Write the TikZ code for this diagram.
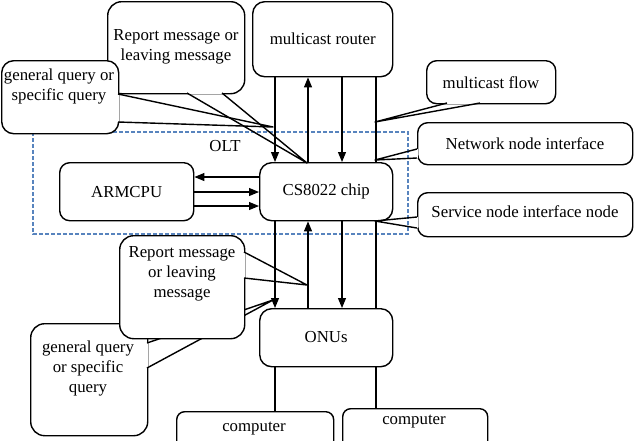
\documentclass[tikz,border=0pt]{standalone}
\usepackage{fontspec}
\setmainfont{Liberation Serif}
\usetikzlibrary{arrows.meta}
\newcommand\myfs{\fontsize{16.8}{20}\selectfont}
\definecolor{oltblue}{RGB}{88,132,190}
\tikzset{
  box/.style={draw, line width=1.4pt, rounded corners=12pt, fill=white, inner sep=0pt, anchor=north west},
  txt/.style={align=center, font=\myfs, inner sep=0pt},
  arr/.style={line width=1.1pt, -{Triangle[length=10pt,width=8pt]}},
  ln/.style={line width=1.1pt},
  ptr/.style={line width=1.4pt, line join=round},
  gap/.style={white, line width=2.6pt}
}
\begin{document}
\begin{tikzpicture}[x=1pt,y=-1pt]
\useasboundingbox (0,0) rectangle (634,440);
% OLT frame
\draw[oltblue, line width=1.1pt, dash pattern=on 4pt off 2pt] (33,132) rectangle (408,234);
\node[txt] (olt) at (225,146) {OLT};
% main boxes
\node[box, minimum width=140pt, minimum height=75pt] (router) at (252,1) {};
\node[txt] (routert) at (router.center) {multicast router};
\node[box, minimum width=134pt, minimum height=58pt, rounded corners=10pt] (arm) at (59,162) {};
\node[txt] (armt) at (arm.center) {ARMCPU};
\node[box, minimum width=133pt, minimum height=58pt] (chip) at (259,162) {};
\node[txt] (chipt) at (chip.center) {CS8022 chip};
\node[box, minimum width=133pt, minimum height=58pt] (onu) at (259,308) {};
\node[txt] (onut) at ([yshift=1pt]onu.center) {ONUs};
\node[box, minimum width=157pt, minimum height=45pt, rounded corners=8pt] (pc1) at (176,411) {};
\node[txt] (pc1t) at (254,429) {computer};
\node[box, minimum width=145pt, minimum height=48pt, rounded corners=8pt] (pc2) at (342,408) {};
\node[txt] (pc2t) at (414,422) {computer};
% x positions of vertical links
\coordinate (xa) at (275,0);
\coordinate (xb) at (308,0);
\coordinate (xc) at (342,0);
\coordinate (xd) at (376,0);
% router <-> chip
\draw[arr] (router.south -| xa) -- (chip.north -| xa);
\draw[arr] (chip.north -| xb) -- (router.south -| xb);
\draw[arr] (router.south -| xc) -- (chip.north -| xc);
\draw[ln] (router.south -| xd) -- (chip.north -| xd);
% chip <-> onu
\draw[arr] (chip.south -| xa) -- (onu.north -| xa);
\draw[arr] (onu.north -| xb) -- (chip.south -| xb);
\draw[arr] (chip.south -| xc) -- (onu.north -| xc);
\draw[ln] (chip.south -| xd) -- (onu.north -| xd);
% onu -> computers
\draw[ln] (onu.south -| xa) -- (pc1.north -| xa);
\draw[ln] (onu.south -| xd) -- (pc2.north -| xd);
% arm <-> chip
\coordinate (ya) at (0,177);
\coordinate (yb) at (0,192);
\coordinate (yc) at (0,206);
\draw[arr] (chip.west |- ya) -- (arm.east |- ya);
\draw[arr] (arm.east |- yb) -- (chip.west |- yb);
\draw[arr] (arm.east |- yc) -- (chip.west |- yc);
% callout: report (upper)
\node[box, minimum width=137pt, minimum height=92pt, rounded corners=14pt] (rep1) at (107,1) {};
\node[txt] (rep1t) at (176,47) {Report message or\\leaving message};
\coordinate (rep1a) at (187,93);
\coordinate (rep1b) at (222,93);
\coordinate (rep1tip) at (307,163);
\draw[gap] (rep1a) -- (rep1b);
\draw[ptr] (rep1a) -- (rep1tip) -- (rep1b);
% callout: general query (upper)
\node[box, minimum width=117pt, minimum height=73pt, rounded corners=12pt] (gq1) at (1,60) {};
\node[txt] (gq1t) at (59,86) {general query or\\specific query};
\coordinate (gq1a) at (118,94);
\coordinate (gq1b) at (118,122);
\coordinate (gq1tip) at (273,127);
\draw[gap] (gq1a) -- (gq1b);
\draw[ptr] (gq1a) -- (gq1tip) -- (gq1b);
% callout: multicast flow
\node[box, minimum width=129pt, minimum height=43pt, rounded corners=10pt] (mf) at (426,60) {};
\node[txt] (mft) at (491,83) {multicast flow};
\coordinate (mfa) at (447,103);
\coordinate (mfb) at (480,103);
\coordinate (mftip) at (375,122);
\draw[gap] (mfa) -- (mfb);
\draw[ptr] (mfa) -- (mftip) -- (mfb);
% callout: network node interface
\node[box, minimum width=215pt, minimum height=42pt, rounded corners=10pt] (nni) at (417,122) {};
\node[txt] (nnit) at (525,144) {Network node interface};
\coordinate (nnia) at (417,149);
\coordinate (nnib) at (417,158);
\coordinate (nnitip) at (375,160);
\draw[gap] (nnia) -- (nnib);
\draw[ptr] (nnia) -- (nnitip) -- (nnib);
% callout: service node interface node
\node[box, minimum width=215pt, minimum height=44pt, rounded corners=10pt] (sni) at (417,192) {};
\node[txt] (snit) at (525,212) {Service node interface node};
\coordinate (snia) at (417,217);
\coordinate (snib) at (417,228);
\coordinate (snitip) at (375,221);
\draw[gap] (snia) -- (snib);
\draw[ptr] (snia) -- (snitip) -- (snib);
% callout: general query (lower)
\node[box, minimum width=117pt, minimum height=112pt, rounded corners=14pt] (gq2) at (30,323) {};
\node[txt] (gq2t) at (88,368) {general query\\or specific\\query};
\coordinate (gq2a) at (147,343);
\coordinate (gq2b) at (147,368);
\coordinate (gq2tip) at (273,300);
\draw[gap] (gq2a) -- (gq2b);
\draw[ptr] (gq2a) -- (gq2tip) -- (gq2b);
% callout: report (lower)
\node[box, minimum width=125pt, minimum height=103pt, rounded corners=14pt] (rep2) at (119,235) {};
\node[txt] (rep2t) at (182,274) {Report message\\or leaving\\message};
\coordinate (rep2a) at (244,252);
\coordinate (rep2b) at (244,278);
\coordinate (rep2tip) at (307,285);
\draw[gap] (rep2a) -- (rep2b);
\draw[ptr] (rep2a) -- (rep2tip) -- (rep2b);
\end{tikzpicture}
\end{document}
